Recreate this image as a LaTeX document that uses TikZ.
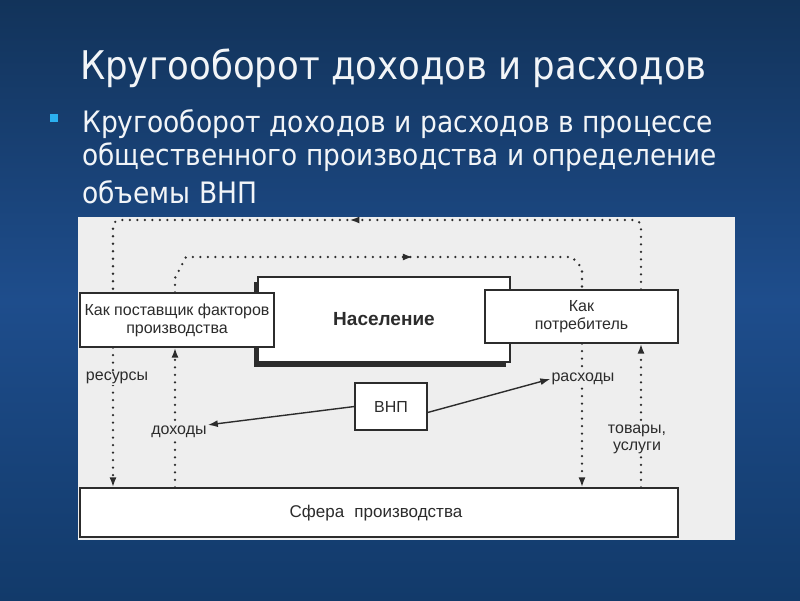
\documentclass[tikz,border=0pt]{standalone}
\usepackage{fontspec}
\setmainfont{Liberation Sans}
\newfontfamily\slidefont{DejaVu Sans Condensed}
\usetikzlibrary{arrows.meta,calc,decorations.markings}
\definecolor{bgtop}{HTML}{12335A}
\definecolor{bgmid}{HTML}{1E4D8C}
\definecolor{bgbot}{HTML}{123A6A}
\definecolor{panel}{HTML}{EEEEEE}
\definecolor{ink}{HTML}{2C2C2C}
\definecolor{bul}{HTML}{2BB0F0}
\definecolor{slidetext}{HTML}{F2F5F8}
\begin{document}
\begin{tikzpicture}[x=1pt,y=-1pt,
  box/.style={draw=ink, line width=1.2pt, fill=white, align=center, text=ink,
    font=\fontsize{16}{18}\selectfont, inner sep=0pt},
  flow/.style={draw=ink, line width=2.6pt, dash pattern=on 0pt off 7.5pt, line cap=round},
  tipend/.style={-{Latex[length=10pt,width=7pt]}},
  lab/.style={fill=panel, text=ink, font=\fontsize{16}{17}\selectfont, inner sep=1pt, align=center},
  slide/.style={text=slidetext, anchor=base west, inner sep=0pt},
]
% background
\shade[top color=bgtop, bottom color=bgbot, middle color=bgmid] (0,0) rectangle (800,600);
\useasboundingbox (0,0) rectangle (800,600);

% title and bullet
\node[slide, font=\slidefont\fontsize{39.5}{44}\selectfont] (title) at (80,79) {Кругооборот доходов и расходов};
\fill[bul] (50,114) rectangle (58,122);
\node[slide, font=\slidefont\fontsize{29.5}{33}\selectfont] (b1) at (82,132) {Кругооборот доходов и расходов в процессе};
\node[slide, font=\slidefont\fontsize{29.3}{33}\selectfont] (b2) at (82,165) {общественного производства и определение};
\node[slide, font=\slidefont\fontsize{29.5}{33}\selectfont] (b3) at (82,203) {объемы ВНП};

% panel
\fill[panel] (78,217) rectangle (735,540);

% boxes
\fill[ink] (254,282) rectangle (506,367);
\node[box, minimum width=252, minimum height=85, font=\bfseries\fontsize{19}{21}\selectfont] (nas) at (384,319.5) {Население};
\node[box, minimum width=194, minimum height=54] (sup) at (177,320) {Как поставщик факторов\\производства};
\node[box, minimum width=193, minimum height=53] (cons) at (581.5,316.5) {Как\\потребитель};
\node[box, minimum width=598, minimum height=49] (prod) at (379,512.5) {};
\node[text=ink, font=\fontsize{17}{19}\selectfont] (prodtxt) at (376,513) {Сфера\hspace{0.6em}производства};
\node[box, minimum width=72, minimum height=47] (gnp) at (391,406.5) {ВНП};

% guide coordinates
\coordinate (xL) at (113,0);
\coordinate (xl2) at (175,0);
\coordinate (xr2) at (582,0);
\coordinate (xR) at (641,0);
\coordinate (yT) at (0,220);

% outer loop
\draw[flow, rounded corners=7pt,
  postaction={decorate, decoration={markings, mark=at position 358pt with {\arrow{Latex[length=10pt,width=7pt]}}}}]
  (cons.north -| xR) -- (xR |- yT) -- (xL |- yT) -- (sup.north -| xL);
\draw[flow, tipend] (sup.south -| xL) -- (prod.north -| xL);
\draw[flow, tipend] (prod.north -| xR) -- (cons.south -| xR);

% inner loop
\coordinate (c1) at (175,278);
\coordinate (c2) at (186,257);
\coordinate (c3) at (572,257);
\coordinate (c4) at (582,268);
\draw[flow,
  postaction={decorate, decoration={markings, mark=at position 265pt with {\arrow{Latex[length=10pt,width=7pt]}}}}]
  (sup.north -| xl2) -- (c1) -- (c2) -- (c3) -- (c4) -- (cons.north -| xr2);
\draw[flow, tipend] (prod.north -| xl2) -- (sup.south -| xl2);
\draw[flow, tipend] (cons.south -| xr2) -- (prod.north -| xr2);

% labels
\node[lab] (res) at (117,378) {ресурсы};
\node[lab] (doh) at (179,432) {доходы};
\node[lab] (rash) at (583,379) {расходы};
\node[lab] (tov) at (637,439) {товары,\\услуги};

% solid arrows
\draw[ink, line width=1.4pt, tipend] (gnp.west) -- (doh.north east);
\draw[ink, line width=1.4pt, tipend] ($(gnp.east)+(0,6)$) -- (rash.west);
\end{tikzpicture}
\end{document}
